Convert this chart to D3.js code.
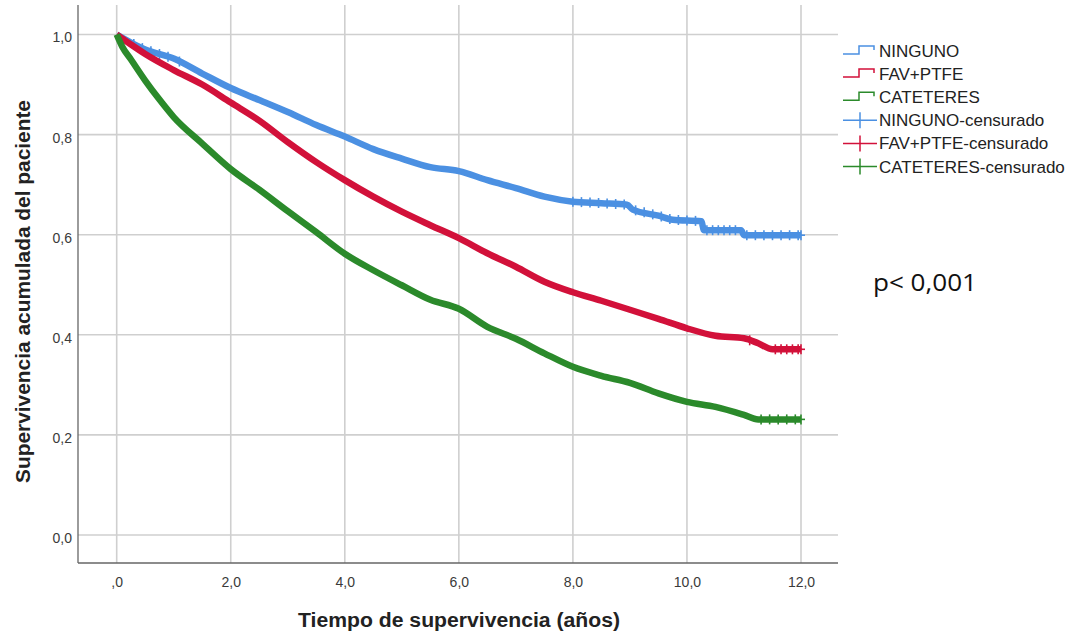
<!DOCTYPE html>
<html><head><meta charset="utf-8">
<script src="https://cdn.jsdelivr.net/npm/d3@7"></script>
<style>
html,body{margin:0;padding:0;background:#fff;}
svg{display:block;font-family:"Liberation Sans",Arial,sans-serif;}
</style></head>
<body>
<svg id="chart" width="1069" height="635"></svg>
<script>
// ---- data ----
const seriesNames = ["NINGUNO", "FAV+PTFE", "CATETERES"];
const legendLabels = ["NINGUNO", "FAV+PTFE", "CATETERES", "NINGUNO-censurado", "FAV+PTFE-censurado", "CATETERES-censurado"];
const xTicks = [0, 2, 4, 6, 8, 10, 12];
const xTickLabels = [",0", "2,0", "4,0", "6,0", "8,0", "10,0", "12,0"];
const yTicks = [0, 0.2, 0.4, 0.6, 0.8, 1.0];
const yTickLabels = ["0,0", "0,2", "0,4", "0,6", "0,8", "1,0"];

const ningunoTime = [0, 0.25, 0.5, 1.0, 1.5, 2.0, 2.5, 3.0, 3.5, 4.0, 4.5, 5.0, 5.5, 6.0, 6.5, 7.0, 7.5, 8.0, 8.5, 8.95, 9.05, 9.5, 9.75, 10.25, 10.3, 10.95, 11.0, 12.0];
const ningunoSurv = [1.0, 0.984, 0.970, 0.952, 0.922, 0.893, 0.869, 0.845, 0.819, 0.796, 0.771, 0.752, 0.735, 0.727, 0.709, 0.693, 0.676, 0.666, 0.663, 0.660, 0.650, 0.638, 0.630, 0.627, 0.609, 0.609, 0.599, 0.599];

const favTime = [0, 0.25, 0.5, 1.0, 1.5, 2.0, 2.5, 3.0, 3.5, 4.0, 4.5, 5.0, 5.5, 6.0, 6.5, 7.0, 7.5, 8.0, 8.5, 9.0, 9.5, 10.0, 10.5, 11.0, 11.25, 11.5, 12.0];
const favSurv = [1.0, 0.980, 0.961, 0.929, 0.900, 0.864, 0.828, 0.785, 0.745, 0.709, 0.676, 0.646, 0.619, 0.593, 0.563, 0.536, 0.506, 0.485, 0.468, 0.450, 0.432, 0.413, 0.398, 0.393, 0.383, 0.371, 0.371];

const catTime = [0, 0.1, 0.25, 0.5, 0.75, 1.0, 1.5, 2.0, 2.5, 3.0, 3.5, 4.0, 4.5, 5.0, 5.5, 6.0, 6.5, 7.0, 7.5, 8.0, 8.5, 9.0, 9.5, 10.0, 10.5, 11.0, 11.25, 12.0];
const catSurv = [1.0, 0.975, 0.950, 0.908, 0.870, 0.835, 0.782, 0.731, 0.690, 0.647, 0.605, 0.562, 0.529, 0.499, 0.470, 0.452, 0.416, 0.392, 0.363, 0.336, 0.318, 0.304, 0.283, 0.266, 0.256, 0.240, 0.231, 0.231];

// censored observation times (visible discrete marks)
const ningunoCens = [0.3, 0.45, 0.6, 0.75, 0.9, 1.1, 8.0, 8.15, 8.3, 8.45, 8.6, 8.75, 8.9, 9.1, 9.25, 9.4, 9.55, 9.7, 9.85, 10.0, 10.15, 10.35, 10.45, 10.55, 10.65, 10.75, 10.85, 11.05, 11.2, 11.35, 11.5, 11.65, 11.8, 11.95, 12.0];
const favCens = [11.1, 11.55, 11.65, 11.75, 11.85, 11.95, 12.0];
const catCens = [11.3, 11.45, 11.6, 11.75, 11.9, 12.0];

const colors = ["#4b90e2", "#d2113a", "#2b8a2b"];
const pText = "p< 0,001";
const xTitle = "Tiempo de supervivencia (años)";
const yTitle = "Supervivencia acumulada del paciente";

// ---- layout ----
const svg = d3.select("#chart");
const x = d3.scaleLinear().domain([0, 12]).range([116.7, 801]);
const y = d3.scaleLinear().domain([0, 1]).range([535, 34.5]);
const frameL = 78, frameR = 838, frameT = 5, frameB = 563;

// gridlines
const grid = svg.append("g");
grid.selectAll("line.h").data(yTicks).join("line")
  .attr("x1", frameL).attr("x2", frameR)
  .attr("y1", d => y(d)).attr("y2", d => y(d))
  .attr("stroke", "#cfcfcf").attr("stroke-width", 1.6);
grid.selectAll("line.v").data(xTicks).join("line")
  .attr("y1", frameT).attr("y2", frameB)
  .attr("x1", d => x(d)).attr("x2", d => x(d))
  .attr("stroke", "#cfcfcf").attr("stroke-width", 1.6);

// axes frame lines
svg.append("line").attr("x1", frameL).attr("x2", frameL).attr("y1", frameT).attr("y2", frameB)
  .attr("stroke", "#666").attr("stroke-width", 1.3);
svg.append("line").attr("x1", frameL).attr("x2", frameR).attr("y1", frameB).attr("y2", frameB)
  .attr("stroke", "#666").attr("stroke-width", 1.3);

// tick labels via d3 axes
const xAxis = d3.axisBottom(x).tickValues(xTicks).tickSize(0).tickPadding(0)
  .tickFormat((d, i) => xTickLabels[i]);
const gx = svg.append("g").attr("transform", `translate(0,577)`).call(xAxis);
gx.select(".domain").remove();
gx.selectAll("text").attr("font-size", 14).attr("fill", "#3a3a3a")
  .attr("font-family", "'Liberation Sans', Arial, sans-serif");

const yAxis = d3.axisLeft(y).tickValues(yTicks).tickSize(0).tickPadding(0)
  .tickFormat((d, i) => yTickLabels[i]);
const gy = svg.append("g").attr("transform", `translate(72,3)`).call(yAxis);
gy.select(".domain").remove();
gy.selectAll("text").attr("font-size", 14).attr("fill", "#3a3a3a")
  .attr("font-family", "'Liberation Sans', Arial, sans-serif");

// axis titles
svg.append("text").attr("x", 459).attr("y", 627).attr("text-anchor", "middle")
  .attr("font-size", 20).attr("font-weight", "bold").attr("fill", "#222")
  .attr("textLength", 322).attr("lengthAdjust", "spacingAndGlyphs").text(xTitle);
svg.append("text").attr("transform", "translate(30,291.5) rotate(-90)").attr("text-anchor", "middle")
  .attr("font-size", 20).attr("font-weight", "bold").attr("fill", "#222")
  .attr("textLength", 383).attr("lengthAdjust", "spacingAndGlyphs").text(yTitle);

// curves
const series = [
  {t: ningunoTime, s: ningunoSurv, c: ningunoCens},
  {t: favTime, s: favSurv, c: favCens},
  {t: catTime, s: catSurv, c: catCens}
];
const line = d3.line().x(d => x(d[0])).y(d => y(d[1])).curve(d3.curveMonotoneX);
const plot = svg.append("g");
series.forEach((ser, i) => {
  const pts = ser.t.map((t, k) => [t, ser.s[k]]);
  const g = plot.append("g");
  g.append("path").attr("d", line(pts)).attr("fill", "none")
    .attr("stroke", colors[i]).attr("stroke-width", 6.5)
    .attr("stroke-linejoin", "round").attr("stroke-linecap", "butt");
  const interp = d3.scaleLinear().domain(ser.t).range(ser.s);
  const cens = ser.c.map(t => [t, interp(t)]);
  g.selectAll("line.cv").data(cens).join("line")
    .attr("x1", d => x(d[0])).attr("x2", d => x(d[0]))
    .attr("y1", d => y(d[1]) - 5).attr("y2", d => y(d[1]) + 5)
    .attr("stroke", colors[i]).attr("stroke-width", 1.6);
  g.selectAll("line.ch").data(cens).join("line")
    .attr("x1", d => x(d[0]) - 4).attr("x2", d => x(d[0]) + 4)
    .attr("y1", d => y(d[1])).attr("y2", d => y(d[1]))
    .attr("stroke", colors[i]).attr("stroke-width", 1.6);
});

// legend
const lg = svg.append("g");
legendLabels.forEach((lab, i) => {
  const cy = 51 + i * 23.1;
  const col = colors[i % 3];
  if (i < 3) {
    lg.append("path")
      .attr("d", `M843,${cy + 3}H859V${cy - 5}H874V${cy - 1}`)
      .attr("fill", "none").attr("stroke", col).attr("stroke-width", 1.5);
  } else {
    lg.append("line").attr("x1", 843).attr("x2", 877).attr("y1", cy).attr("y2", cy)
      .attr("stroke", col).attr("stroke-width", 1.5);
    lg.append("line").attr("x1", 860).attr("x2", 860).attr("y1", cy - 8).attr("y2", cy + 8)
      .attr("stroke", col).attr("stroke-width", 1.5);
  }
  lg.append("text").attr("x", 879).attr("y", cy + 6)
    .attr("font-size", 17).attr("fill", "#222").text(lab);
});

// p-value annotation
svg.append("text").attr("x", 873).attr("y", 291)
  .attr("font-family", "'Open Sans', 'Liberation Sans', sans-serif")
  .attr("font-size", 23).attr("fill", "#111")
  .attr("textLength", 104).attr("lengthAdjust", "spacingAndGlyphs").text(pText);
</script>
</body></html>
